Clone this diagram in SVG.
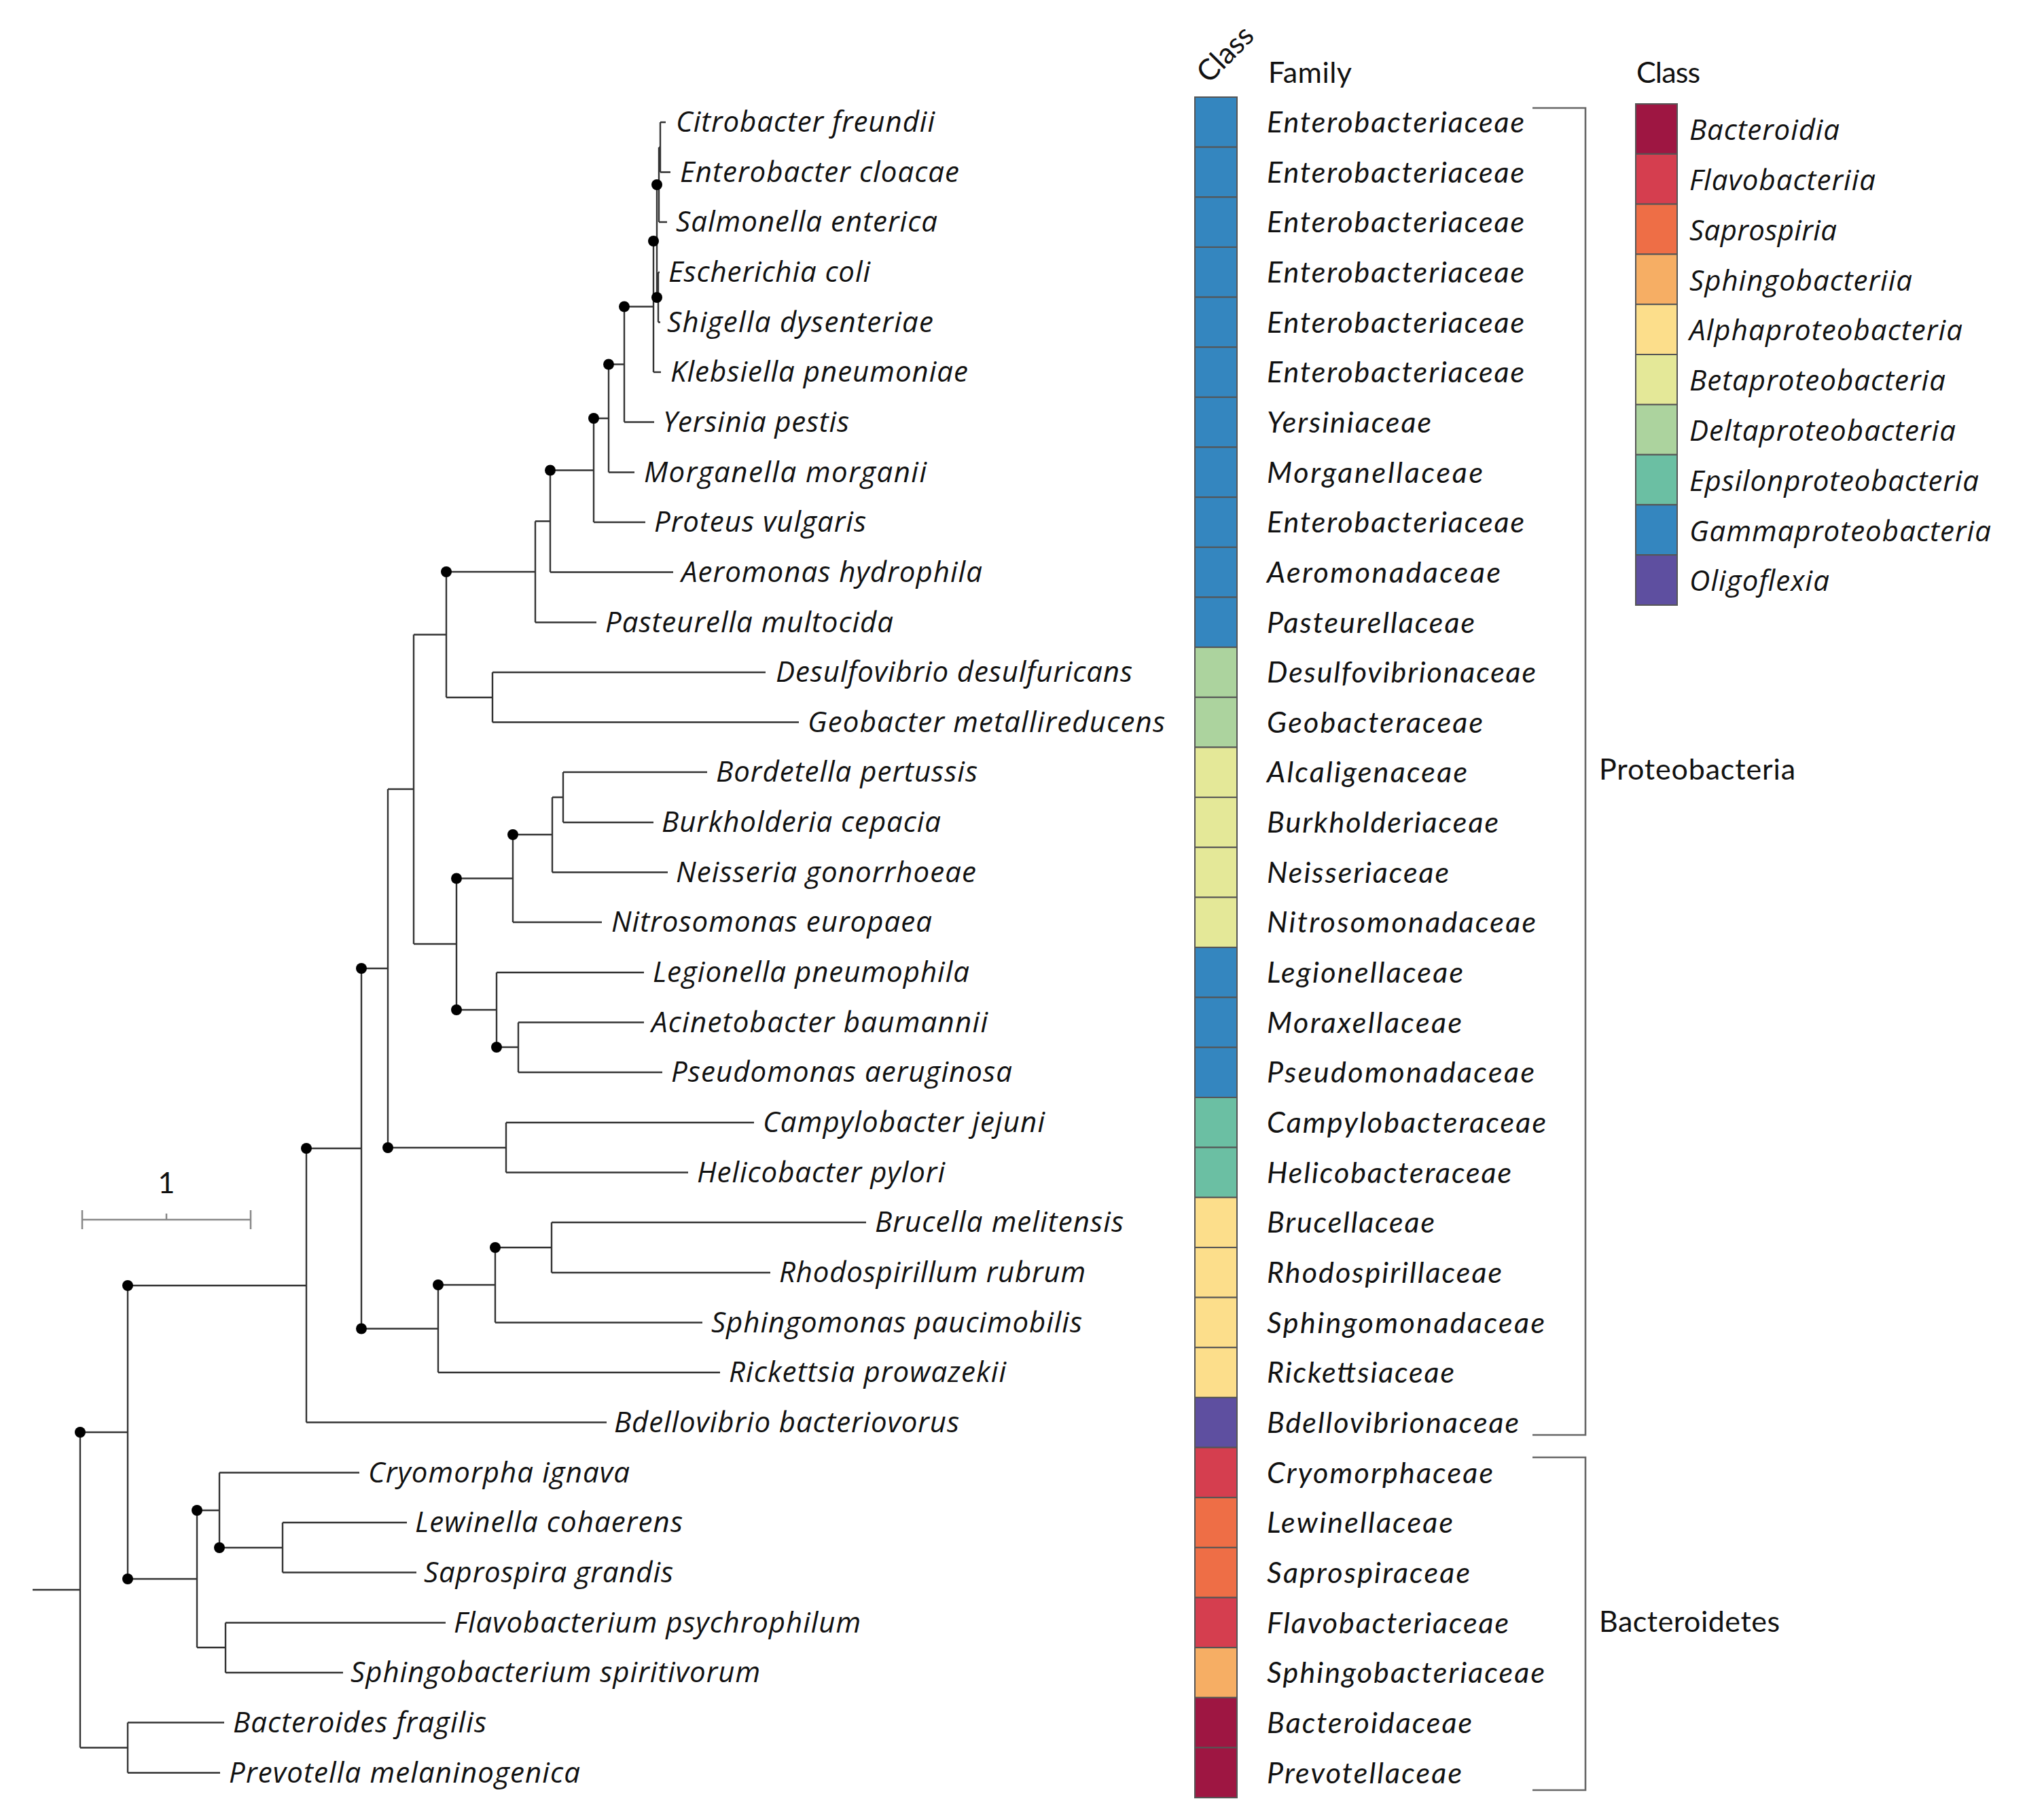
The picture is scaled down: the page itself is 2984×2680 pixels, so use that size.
<svg xmlns="http://www.w3.org/2000/svg" width="2984" height="2680" viewBox="0 0 2984 2680">
<style>
.sp{font-family:"Open Sans","DejaVu Sans",sans-serif;font-style:italic;font-size:42px;fill:#111}
.fam{font-family:Lato,"Open Sans",sans-serif;font-style:italic;font-size:43px;fill:#111}
.hdr{font-family:Lato,"Open Sans",sans-serif;font-size:43px;fill:#111}
.edge{stroke:#333;stroke-width:2.4;fill:none}
.dot{fill:#000}
.cell{stroke:#555;stroke-width:2}
.brk{stroke:#666;stroke-width:2.6;fill:none}
.bar{stroke:#888;stroke-width:2.5;fill:none}
</style>
<rect width="2984" height="2680" fill="#fff"/>

<g id="edges" class="edge">
<path d="M972 180H980M972 253.5H987M970 327H982M969 401H971M969 474.5H972M962 548H973M919 621.5H963M896 695.5H934M874 769H950M810 842.5H991M788 916.5H878M725 990H1127M725 1063.5H1176M829 1137H1041M829 1211H962M813 1284.5H983M755 1358H886M731 1432H948M763 1505.5H948M763 1579H975M745 1653H1110M745 1726.5H1013M812 1800H1275M812 1874H1134M729 1947.5H1034M645 2021H1060M451 2094.5H893M323 2168.5H529M416 2242H599M416 2315.5H613M332 2389.5H656M332 2463H505M188 2536.5H330M188 2610.5H324"/>
<path d="M972 180V253.5M970 217H972M970 217V327M967 272H970M969 401V474.5M967 438H969M967 272V438M962 355H967M962 355V548M919 451.5H962M919 451.5V621.5M896 536.5H919M896 536.5V695.5M874 616H896M874 616V769M810 692.5H874M810 692.5V842.5M788 767.5H810M788 767.5V916.5M657 842H788M725 990V1063.5M657 1027H725M657 842V1027M609 934.5H657"/>
<path d="M829 1137V1211M813 1174H829M813 1174V1284.5M755 1229H813M755 1229V1358M672 1293.5H755M763 1505.5V1579M731 1542H763M731 1432V1542M672 1487H731M672 1293.5V1487M609 1390H672M609 934.5V1390M571 1162H609M745 1653V1726.5M571 1690H745M571 1162V1690M532 1426H571"/>
<path d="M812 1800V1874M729 1837H812M729 1837V1947.5M645 1892H729M645 1892V2021M532 1956.5H645M532 1426V1956.5M451 1691H532M451 1691V2094.5M188 1893H451"/>
<path d="M416 2242V2315.5M323 2279H416M323 2168.5V2279M290 2224H323M332 2389.5V2463M290 2426H332M290 2224V2426M188 2325H290M188 1893V2325M118 2109H188M188 2536.5V2610.5M118 2573.5H188M118 2109V2573.5M48 2341H118"/>
</g>

<g id="support-nodes" class="dot">
<circle id="n-B" cx="967" cy="272" r="8"/>
<circle id="n-E" cx="967" cy="438" r="8"/>
<circle id="n-C" cx="962" cy="355" r="8"/>
<circle id="n-D" cx="919" cy="451.5" r="8"/>
<circle id="n-F" cx="896" cy="536.5" r="8"/>
<circle id="n-G" cx="874" cy="616" r="8"/>
<circle id="n-H" cx="810" cy="692.5" r="8"/>
<circle id="n-J" cx="657" cy="842" r="8"/>
<circle id="n-Ne" cx="755" cy="1229" r="8"/>
<circle id="n-Ni" cx="672" cy="1293.5" r="8"/>
<circle id="n-Le" cx="672" cy="1487" r="8"/>
<circle id="n-AP" cx="731" cy="1542" r="8"/>
<circle id="n-M" cx="532" cy="1426" r="8"/>
<circle id="n-Eps" cx="571" cy="1690" r="8"/>
<circle id="n-N" cx="451" cy="1691" r="8"/>
<circle id="n-Br" cx="729" cy="1837" r="8"/>
<circle id="n-Sp" cx="645" cy="1892" r="8"/>
<circle id="n-Ri" cx="532" cy="1956.5" r="8"/>
<circle id="n-O" cx="188" cy="1893" r="8"/>
<circle id="n-P" cx="118" cy="2109" r="8"/>
<circle id="n-Ba" cx="188" cy="2325" r="8"/>
<circle id="n-CL" cx="290" cy="2224" r="8"/>
<circle id="n-LS" cx="323" cy="2279" r="8"/>
</g>

<g id="species" class="sp">
<g id="leaf-0"><text x="995" y="194" textLength="381">Citrobacter freundii</text></g>
<g id="leaf-1"><text x="1001" y="267.5" textLength="411">Enterobacter cloacae</text></g>
<g id="leaf-2"><text x="995" y="341" textLength="385">Salmonella enterica</text></g>
<g id="leaf-3"><text x="984" y="415" textLength="297">Escherichia coli</text></g>
<g id="leaf-4"><text x="982" y="488.5" textLength="392">Shigella dysenteriae</text></g>
<g id="leaf-5"><text x="987" y="562" textLength="438">Klebsiella pneumoniae</text></g>
<g id="leaf-6"><text x="976" y="635.5" textLength="274">Yersinia pestis</text></g>
<g id="leaf-7"><text x="948" y="709.5" textLength="416">Morganella morganii</text></g>
<g id="leaf-8"><text x="963" y="783" textLength="312">Proteus vulgaris</text></g>
<g id="leaf-9"><text x="1003" y="856.5" textLength="443">Aeromonas hydrophila</text></g>
<g id="leaf-10"><text x="891" y="930.5" textLength="424">Pasteurella multocida</text></g>
<g id="leaf-11"><text x="1142" y="1004" textLength="525">Desulfovibrio desulfuricans</text></g>
<g id="leaf-12"><text x="1189" y="1077.5" textLength="526">Geobacter metallireducens</text></g>
<g id="leaf-13"><text x="1054" y="1151" textLength="385">Bordetella pertussis</text></g>
<g id="leaf-14"><text x="974" y="1225" textLength="411">Burkholderia cepacia</text></g>
<g id="leaf-15"><text x="995" y="1298.5" textLength="442">Neisseria gonorrhoeae</text></g>
<g id="leaf-16"><text x="900" y="1372" textLength="472">Nitrosomonas europaea</text></g>
<g id="leaf-17"><text x="961" y="1446" textLength="466">Legionella pneumophila</text></g>
<g id="leaf-18"><text x="959" y="1519.5" textLength="495">Acinetobacter baumannii</text></g>
<g id="leaf-19"><text x="988" y="1593" textLength="502">Pseudomonas aeruginosa</text></g>
<g id="leaf-20"><text x="1123" y="1667" textLength="415">Campylobacter jejuni</text></g>
<g id="leaf-21"><text x="1026" y="1740.5" textLength="365">Helicobacter pylori</text></g>
<g id="leaf-22"><text x="1288" y="1814" textLength="366">Brucella melitensis</text></g>
<g id="leaf-23"><text x="1147" y="1888" textLength="451">Rhodospirillum rubrum</text></g>
<g id="leaf-24"><text x="1047" y="1961.5" textLength="546">Sphingomonas paucimobilis</text></g>
<g id="leaf-25"><text x="1073" y="2035" textLength="408">Rickettsia prowazekii</text></g>
<g id="leaf-26"><text x="904" y="2108.5" textLength="508">Bdellovibrio bacteriovorus</text></g>
<g id="leaf-27"><text x="542" y="2182.5" textLength="385">Cryomorpha ignava</text></g>
<g id="leaf-28"><text x="611" y="2256" textLength="394">Lewinella cohaerens</text></g>
<g id="leaf-29"><text x="624" y="2329.5" textLength="367">Saprospira grandis</text></g>
<g id="leaf-30"><text x="668" y="2403.5" textLength="599">Flavobacterium psychrophilum</text></g>
<g id="leaf-31"><text x="516" y="2477" textLength="603">Sphingobacterium spiritivorum</text></g>
<g id="leaf-32"><text x="343" y="2550.5" textLength="373">Bacteroides fragilis</text></g>
<g id="leaf-33"><text x="337" y="2624.5" textLength="517">Prevotella melaninogenica</text></g>
</g>

<g id="scale-bar">
<path class="bar" d="M121 1796H369M121 1782V1810M369 1782V1810M245 1787V1796"/>
<text class="hdr" x="245" y="1757" text-anchor="middle" font-size="42">1</text>
</g>

<g id="class-strip" class="cell">
<rect x="1759" y="143" width="62" height="73.65" fill="#3486BF"/>
<rect x="1759" y="216.65" width="62" height="73.65" fill="#3486BF"/>
<rect x="1759" y="290.3" width="62" height="73.65" fill="#3486BF"/>
<rect x="1759" y="363.95" width="62" height="73.65" fill="#3486BF"/>
<rect x="1759" y="437.6" width="62" height="73.65" fill="#3486BF"/>
<rect x="1759" y="511.25" width="62" height="73.65" fill="#3486BF"/>
<rect x="1759" y="584.9" width="62" height="73.65" fill="#3486BF"/>
<rect x="1759" y="658.55" width="62" height="73.65" fill="#3486BF"/>
<rect x="1759" y="732.2" width="62" height="73.65" fill="#3486BF"/>
<rect x="1759" y="805.85" width="62" height="73.65" fill="#3486BF"/>
<rect x="1759" y="879.5" width="62" height="73.65" fill="#3486BF"/>
<rect x="1759" y="953.15" width="62" height="73.65" fill="#ACD39E"/>
<rect x="1759" y="1026.8" width="62" height="73.65" fill="#ACD39E"/>
<rect x="1759" y="1100.45" width="62" height="73.65" fill="#E4E898"/>
<rect x="1759" y="1174.1" width="62" height="73.65" fill="#E4E898"/>
<rect x="1759" y="1247.75" width="62" height="73.65" fill="#E4E898"/>
<rect x="1759" y="1321.4" width="62" height="73.65" fill="#E4E898"/>
<rect x="1759" y="1395.05" width="62" height="73.65" fill="#3486BF"/>
<rect x="1759" y="1468.7" width="62" height="73.65" fill="#3486BF"/>
<rect x="1759" y="1542.35" width="62" height="73.65" fill="#3486BF"/>
<rect x="1759" y="1616" width="62" height="73.65" fill="#6BBFA3"/>
<rect x="1759" y="1689.65" width="62" height="73.65" fill="#6BBFA3"/>
<rect x="1759" y="1763.3" width="62" height="73.65" fill="#FCDE8B"/>
<rect x="1759" y="1836.95" width="62" height="73.65" fill="#FCDE8B"/>
<rect x="1759" y="1910.6" width="62" height="73.65" fill="#FCDE8B"/>
<rect x="1759" y="1984.25" width="62" height="73.65" fill="#FCDE8B"/>
<rect x="1759" y="2057.9" width="62" height="73.65" fill="#5E4FA0"/>
<rect x="1759" y="2131.55" width="62" height="73.65" fill="#D53E4F"/>
<rect x="1759" y="2205.2" width="62" height="73.65" fill="#EE6E46"/>
<rect x="1759" y="2278.85" width="62" height="73.65" fill="#EE6E46"/>
<rect x="1759" y="2352.5" width="62" height="73.65" fill="#D53E4F"/>
<rect x="1759" y="2426.15" width="62" height="73.65" fill="#F6AE64"/>
<rect x="1759" y="2499.8" width="62" height="73.65" fill="#9E1642"/>
<rect x="1759" y="2573.45" width="62" height="73.65" fill="#9E1642"/>
</g>
<g id="class-header"><text class="hdr" transform="translate(1804 80) rotate(-45)" x="0" y="14" text-anchor="middle" font-size="42">Class</text></g>

<g id="family-header"><text class="hdr" x="1867" y="122" textLength="123">Family</text></g>
<g id="families" class="fam">
<text x="1865" y="195" textLength="379">Enterobacteriaceae</text>
<text x="1865" y="268.5" textLength="379">Enterobacteriaceae</text>
<text x="1865" y="342" textLength="379">Enterobacteriaceae</text>
<text x="1865" y="416" textLength="379">Enterobacteriaceae</text>
<text x="1865" y="489.5" textLength="379">Enterobacteriaceae</text>
<text x="1865" y="563" textLength="379">Enterobacteriaceae</text>
<text x="1865" y="636.5" textLength="242">Yersiniaceae</text>
<text x="1865" y="710.5" textLength="318">Morganellaceae</text>
<text x="1865" y="784" textLength="379">Enterobacteriaceae</text>
<text x="1865" y="857.5" textLength="344">Aeromonadaceae</text>
<text x="1865" y="931.5" textLength="306">Pasteurellaceae</text>
<text x="1865" y="1005" textLength="396">Desulfovibrionaceae</text>
<text x="1865" y="1078.5" textLength="318">Geobacteraceae</text>
<text x="1865" y="1152" textLength="295">Alcaligenaceae</text>
<text x="1865" y="1226" textLength="341">Burkholderiaceae</text>
<text x="1865" y="1299.5" textLength="268">Neisseriaceae</text>
<text x="1865" y="1373" textLength="396">Nitrosomonadaceae</text>
<text x="1865" y="1447" textLength="289">Legionellaceae</text>
<text x="1865" y="1520.5" textLength="287">Moraxellaceae</text>
<text x="1865" y="1594" textLength="394">Pseudomonadaceae</text>
<text x="1865" y="1668" textLength="411">Campylobacteraceae</text>
<text x="1865" y="1741.5" textLength="360">Helicobacteraceae</text>
<text x="1865" y="1815" textLength="247">Brucellaceae</text>
<text x="1865" y="1889" textLength="346">Rhodospirillaceae</text>
<text x="1865" y="1962.5" textLength="409">Sphingomonadaceae</text>
<text x="1865" y="2036" textLength="276">Rickettsiaceae</text>
<text x="1865" y="2109.5" textLength="371">Bdellovibrionaceae</text>
<text x="1865" y="2183.5" textLength="333">Cryomorphaceae</text>
<text x="1865" y="2257" textLength="274">Lewinellaceae</text>
<text x="1865" y="2330.5" textLength="299">Saprospiraceae</text>
<text x="1865" y="2404.5" textLength="356">Flavobacteriaceae</text>
<text x="1865" y="2478" textLength="409">Sphingobacteriaceae</text>
<text x="1865" y="2551.5" textLength="302">Bacteroidaceae</text>
<text x="1865" y="2625.5" textLength="287">Prevotellaceae</text>
</g>

<g id="phylum-brackets">
<path class="brk" d="M2256 159H2334V2113H2256"/>
<path class="brk" d="M2256 2146H2334V2636H2256"/>
<text class="hdr" x="2354" y="1148" textLength="289">Proteobacteria</text>
<text class="hdr" x="2354" y="2403" textLength="266">Bacteroidetes</text>
</g>

<g id="legend">
<text class="hdr" x="2409" y="122" textLength="94">Class</text>
<g class="cell">
<rect x="2408" y="153" width="61" height="73.8" fill="#9E1642"/>
<rect x="2408" y="226.8" width="61" height="73.8" fill="#D53E4F"/>
<rect x="2408" y="300.6" width="61" height="73.8" fill="#EE6E46"/>
<rect x="2408" y="374.4" width="61" height="73.8" fill="#F6AE64"/>
<rect x="2408" y="448.2" width="61" height="73.8" fill="#FCDE8B"/>
<rect x="2408" y="522" width="61" height="73.8" fill="#E4E898"/>
<rect x="2408" y="595.8" width="61" height="73.8" fill="#ACD39E"/>
<rect x="2408" y="669.6" width="61" height="73.8" fill="#6BBFA3"/>
<rect x="2408" y="743.4" width="61" height="73.8" fill="#3486BF"/>
<rect x="2408" y="817.2" width="61" height="73.8" fill="#5E4FA0"/>
</g>
<g class="sp">
<text x="2487" y="206" textLength="221">Bacteroidia</text>
<text x="2487" y="280" textLength="274">Flavobacteriia</text>
<text x="2487" y="353.5" textLength="217">Saprospiria</text>
<text x="2487" y="427.5" textLength="328">Sphingobacteriia</text>
<text x="2487" y="501" textLength="402">Alphaproteobacteria</text>
<text x="2487" y="575" textLength="377">Betaproteobacteria</text>
<text x="2487" y="649" textLength="392">Deltaproteobacteria</text>
<text x="2487" y="722.5" textLength="426">Epsilonproteobacteria</text>
<text x="2487" y="796.5" textLength="444">Gammaproteobacteria</text>
<text x="2487" y="870" textLength="206">Oligoflexia</text>
</g>
</g>
</svg>
